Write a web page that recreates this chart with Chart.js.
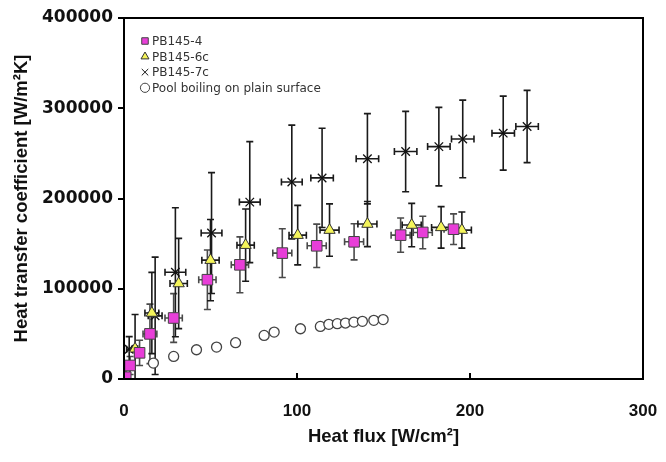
<!DOCTYPE html>
<html>
<head>
<meta charset="utf-8">
<script src="https://cdn.jsdelivr.net/npm/chart.js@4.4.0/dist/chart.umd.min.js"></script>
<style>
  html, body { margin: 0; padding: 0; background: #fff; }
  #wrap { width: 666px; height: 462px; }
</style>
</head>
<body>
<div id="wrap"><canvas id="c"></canvas></div>
<script>
'use strict';

// ── Datos ────────────────────────────────────────────────────────────────────

const xTicks = [0, 100, 200, 300];
const yTicks = [0, 100000, 200000, 300000, 400000];

// PB145-4 (cuadrados)
const pb4X    = [1, 3.5, 9, 15, 28.7, 48.2, 67, 91.5, 111.4, 133, 159.9, 172.7, 190.5];
const pb4Y    = [2000, 15000, 29000, 50000, 67600, 110000, 126500, 139500, 147600, 152000, 159400, 162400, 166000];
const pb4ErrX = [1, 1.5, 2, 4, 5, 5, 5, 5.5, 5.5, 5.5, 5.5, 5.5, 5.5];
const pb4ErrY = [3000, 10000, 14000, 33000, 27000, 33000, 31000, 27000, 24000, 20000, 19000, 18000, 17000];

// PB145-6c (triángulos)
const pb6X    = [1, 6.4, 16.1, 31.6, 50, 70.3, 100.4, 118.8, 140.7, 166.3, 183.3, 195.3];
const pb6Y    = [2000, 33500, 73100, 105800, 131700, 148300, 159400, 165000, 171700, 170600, 168000, 165000];
const pb6ErrX = [1, 1.5, 4, 5, 5, 5, 5, 5.5, 5.5, 5.5, 5.5, 5.5];
const pb6ErrY = [3000, 38000, 45000, 50000, 45000, 40000, 33000, 29000, 25000, 24000, 23000, 20000];

// PB145-7c (cruces)
const pb7X    = [1, 3, 18, 29.7, 50.6, 72.7, 97, 114.5, 140.7, 162.8, 182, 195.8, 219.2, 233];
const pb7Y    = [3000, 33000, 70000, 118300, 161700, 196000, 218300, 222800, 244000, 252000, 257500, 266000, 272400, 279800];
const pb7ErrX = [1, 1.5, 4, 6, 6, 6, 6, 6.5, 6.5, 6.5, 6.5, 6.5, 6.5, 6.5];
const pb7ErrY = [4000, 14000, 65000, 71500, 67000, 67000, 63000, 55000, 50000, 44500, 43500, 43000, 41000, 40000];

// Pool boiling (círculos)
const poolX = [17, 28.7, 41.9, 53.5, 64.5, 81, 86.8, 102, 113.5, 118.4, 123.3, 128, 132.9, 137.8, 144.4, 149.8];
const poolY = [17600, 25000, 32400, 35400, 40200, 48300, 52000, 55700, 58300, 60600, 61300, 62000, 63100, 63900, 65000, 65800];

const pts = (xs, ys) => xs.map((x, i) => ({ x, y: ys[i] }));

// ── Plugins ──────────────────────────────────────────────────────────────────

const errorBars = {
  id: 'errorBars',
  beforeDatasetsDraw(chart) {
    const { ctx, chartArea: a, scales: { x, y } } = chart;
    ctx.save();
    ctx.beginPath(); ctx.rect(a.left, a.top, a.right - a.left, a.bottom - a.top); ctx.clip();
    chart.data.datasets.forEach((ds, i) => {
      if (!ds.errY || !chart.isDatasetVisible(i)) return;
      ctx.strokeStyle = ds.errColor;
      ctx.lineWidth = 1.6;
      const cap = 3.5;
      ds.data.forEach((p, j) => {
        const px = x.getPixelForValue(p.x), py = y.getPixelForValue(p.y);
        const yLo = y.getPixelForValue(p.y - ds.errY[j]), yHi = y.getPixelForValue(p.y + ds.errY[j]);
        const xLo = x.getPixelForValue(p.x - ds.errX[j]), xHi = x.getPixelForValue(p.x + ds.errX[j]);
        ctx.beginPath();
        ctx.moveTo(px, yLo); ctx.lineTo(px, yHi);
        ctx.moveTo(px - cap, yLo); ctx.lineTo(px + cap, yLo);
        ctx.moveTo(px - cap, yHi); ctx.lineTo(px + cap, yHi);
        ctx.moveTo(xLo, py); ctx.lineTo(xHi, py);
        ctx.moveTo(xLo, py - cap); ctx.lineTo(xLo, py + cap);
        ctx.moveTo(xHi, py - cap); ctx.lineTo(xHi, py + cap);
        ctx.stroke();
      });
    });
    ctx.restore();
  },
};

// Leyenda dibujada a mano dentro del área (arriba a la izquierda)
const innerLegend = {
  id: 'innerLegend',
  afterDraw(chart) {
    const { ctx, chartArea: a } = chart;
    ctx.save();
    ctx.font = '12px "DejaVu Sans", sans-serif';
    ctx.textBaseline = 'middle';
    ctx.textAlign = 'left';
    chart.data.datasets.forEach((ds, i) => {
      const mx = a.left + 21, my = a.top + 23 + i * 15.6;
      ctx.fillStyle = ds.pointBackgroundColor;
      ctx.strokeStyle = ds.pointBorderColor;
      ctx.lineWidth = 1;
      Chart.helpers.drawPoint(ctx, { pointStyle: ds.pointStyle, radius: 4.6, rotation: 0, borderWidth: 1 }, mx, my);
      ctx.fillStyle = '#333';
      ctx.fillText(ds.label, mx + 7, my + 1);
    });
    ctx.restore();
  },
};

const frame = {
  id: 'frame',
  afterDraw(chart) {
    const { ctx, chartArea: a, scales: { x } } = chart;
    ctx.save();
    ctx.strokeStyle = '#000';
    ctx.lineWidth = 2;
    ctx.strokeRect(a.left, a.top, a.right - a.left, a.bottom - a.top);
    // marcas del eje x hacia dentro
    ctx.beginPath();
    xTicks.forEach(v => {
      const px = x.getPixelForValue(v);
      ctx.moveTo(px, a.bottom); ctx.lineTo(px, a.bottom - 6);
    });
    ctx.stroke();
    ctx.restore();
  },
};

// ── Gráfica ──────────────────────────────────────────────────────────────────

const xTickFont = { family: '"Liberation Sans", Arial, sans-serif', size: 17, weight: 'bold' };
const yTickFont = { family: '"DejaVu Sans", sans-serif', size: 17, weight: 'bold' };
const titleFont = { family: '"Liberation Sans", Arial, sans-serif', size: 18.5, weight: 'bold' };

new Chart(document.getElementById('c'), {
  type: 'scatter',
  data: {
    datasets: [
      {
        label: 'PB145-4',
        data: pts(pb4X, pb4Y), errX: pb4ErrX, errY: pb4ErrY, errColor: '#4a4a4a',
        pointStyle: 'rect', pointRadius: 7.5, pointBackgroundColor: '#e83ed8',
        pointBorderColor: '#444', pointBorderWidth: 1,
      },
      {
        label: 'PB145-6c',
        data: pts(pb6X, pb6Y), errX: pb6ErrX, errY: pb6ErrY, errColor: '#1a1a1a',
        pointStyle: 'triangle', pointRadius: 6.5, pointBackgroundColor: '#f4f45a',
        pointBorderColor: '#333', pointBorderWidth: 1,
      },
      {
        label: 'PB145-7c',
        data: pts(pb7X, pb7Y), errX: pb7ErrX, errY: pb7ErrY, errColor: '#1a1a1a',
        pointStyle: 'crossRot', pointRadius: 6, pointBackgroundColor: '#111',
        pointBorderColor: '#111', pointBorderWidth: 1.3,
      },
      {
        label: 'Pool boiling on plain surface',
        data: pts(poolX, poolY),
        pointStyle: 'circle', pointRadius: 5, pointBackgroundColor: '#fff',
        pointBorderColor: '#444', pointBorderWidth: 1.3,
      },
    ],
  },
  options: {
    responsive: true,
    maintainAspectRatio: false,
    animation: false,
    layout: { padding: { top: 18, right: 23, left: 0, bottom: 0 } },
    plugins: {
      legend: { display: false },
      tooltip: { enabled: false },
    },
    scales: {
      x: {
        type: 'linear', min: 0, max: 300,
        afterFit: s => { s.height = 83; s.paddingLeft = 0; s.paddingRight = 0; },
        afterBuildTicks: s => { s.ticks = xTicks.map(v => ({ value: v })); },
        grid: { display: false },
        border: { display: false },
        ticks: { color: '#111', font: xTickFont, padding: 14, maxRotation: 0 },
        title: { display: true, text: 'Heat flux [W/cm²]', color: '#111', font: titleFont, padding: { top: 4, bottom: 14 } },
      },
      y: {
        type: 'linear', min: 0, max: 400000,
        afterFit: s => { s.width = 124; s.paddingTop = 0; s.paddingBottom = 0; },
        afterBuildTicks: s => { s.ticks = yTicks.map(v => ({ value: v })); },
        grid: { display: true, drawOnChartArea: false, drawTicks: true, tickLength: 6, color: '#000', lineWidth: 2 },
        border: { display: false },
        ticks: { color: '#111', font: yTickFont, padding: 5, callback: v => String(v) },
        title: { display: true, text: 'Heat transfer coefficient [W/m²K]', color: '#111', font: titleFont, padding: { top: 11, bottom: 0 } },
      },
    },
  },
  plugins: [errorBars, innerLegend, frame],
});
</script>
</body>
</html>
